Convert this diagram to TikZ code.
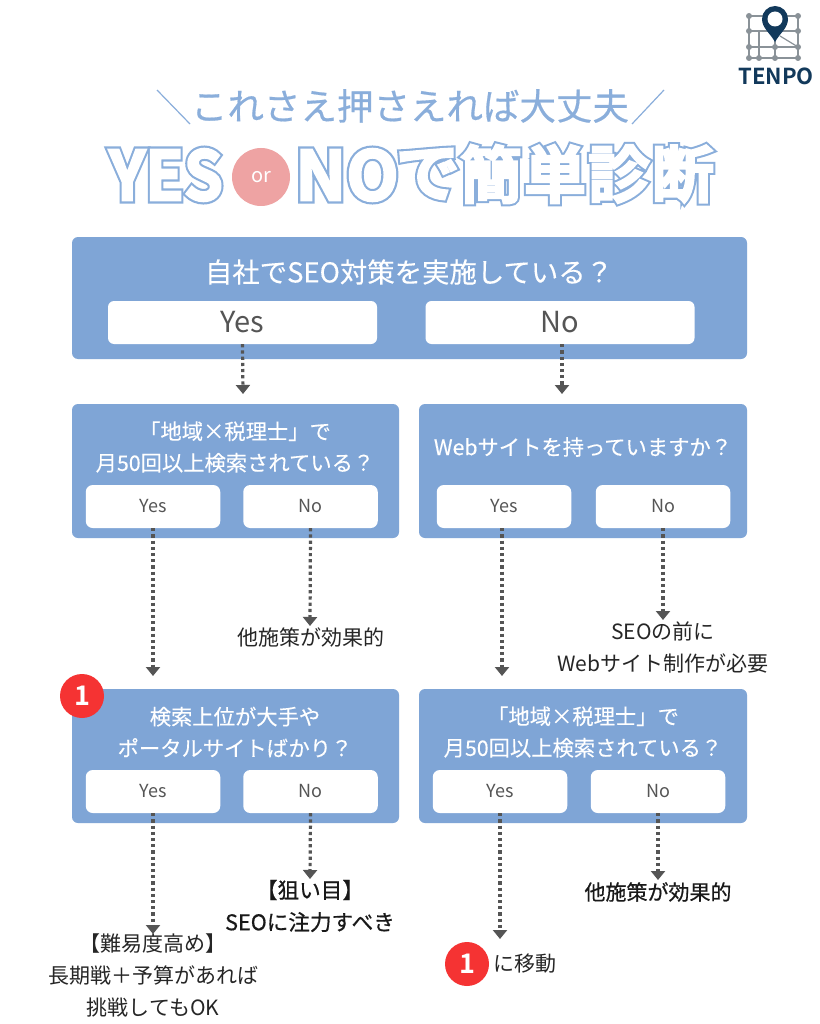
\documentclass[tikz,border=0pt]{standalone}
\usepackage{fontspec}
\usetikzlibrary{arrows.meta}
\newfontfamily\jp{Noto Sans CJK JP}
\newfontfamily\jpq[FakeBold=0.25]{Noto Sans CJK JP}
\newfontfamily\jpm[FakeBold=0.5]{Noto Sans CJK JP}
\newfontfamily\jpb[BoldFont={Noto Sans CJK JP Bold}]{Noto Sans CJK JP}
\newfontfamily\jpthick[FakeBold=10]{Noto Sans CJK JP Bold}
\newfontfamily\jpfat[FakeBold=3.5]{Noto Sans CJK JP Bold}
\newfontfamily\jpmid[FakeBold=0.6]{Noto Sans CJK JP}
\definecolor{panelblue}{HTML}{7FA5D6}
\definecolor{titleblue}{HTML}{8AAEDB}
\definecolor{pinkc}{HTML}{EEA3A3}
\definecolor{redc}{HTML}{F53333}
\definecolor{greyt}{HTML}{555555}
\definecolor{arrowc}{HTML}{555555}
\definecolor{navy}{HTML}{12395B}
\definecolor{gridc}{HTML}{8A9298}
\tikzset{
  panel/.style={fill=panelblue,draw=none,rounded corners=6pt,inner sep=0pt},
  btn/.style={fill=white,draw=none,rounded corners=7pt,inner sep=0pt,minimum width=134.5pt,minimum height=43pt,text=greyt,font={\jp\fontsize{18}{22}\selectfont}},
  bigbtn/.style={fill=white,draw=none,rounded corners=6pt,inner sep=0pt,minimum width=269pt,minimum height=43pt,text=greyt,font={\jp\fontsize{29}{34}\selectfont}},
  qtext/.style={text=white,inner sep=0pt,align=center,font={\jpq\fontsize{21.3}{31.5}\selectfont}},
  ans/.style={text=black!85,inner sep=0pt,align=center,font={\jp\fontsize{21}{32}\selectfont}},
  ansb/.style={text=black!90,inner sep=0pt,align=center,font={\jpmid\fontsize{21.6}{32}\selectfont}},
  flow/.style={draw=arrowc,line width=3.2pt,dash pattern=on 3.2pt off 3pt,-{Triangle[width=14pt,length=9pt]}},
  redbadge/.style={circle,fill=redc,draw=none,inner sep=0pt,minimum size=44pt,text=white,font={\jpb\fontsize{27}{30}\bfseries\selectfont}},
  orbadge/.style={circle,fill=pinkc,draw=none,inner sep=0pt,minimum size=58pt,text=white,font={\jp\fontsize{20}{24}\selectfont}},
  outer/.style={inner sep=0pt,text=titleblue,font={\jpthick\fontsize{#1}{#1}\selectfont}},
  inner/.style={inner sep=0pt,text=white,font={\jpfat\fontsize{#1}{#1}\selectfont}},
  gridline/.style={draw=gridc,line width=1.2pt},
  griddot/.style={circle,fill=gridc,draw=none,inner sep=0pt,minimum size=6pt},
}
\begin{document}
\begin{tikzpicture}[x=1pt,y=-1pt]
\useasboundingbox[fill=white] (0,0) rectangle (819,1024);
% logo
\foreach \y in {16,31,47,58}{\draw[gridline] (749,\y) -- (798,\y);}
\foreach \x in {749,775,798}{\draw[gridline] (\x,16) -- (\x,58);}
\draw[gridline] (759,31) -- (759,58);
\draw[gridline] (780,36) -- (798,47);
\foreach \x in {749,775,798}{\foreach \y in {16,31,47}{\node[griddot] at (\x,\y) {};}}
\foreach \x in {749,759,775,798}{\node[griddot] at (\x,58) {};}
\fill[navy] (775,42) .. controls (770,33) and (762,28) .. (762,19) arc[start angle=180,end angle=360,radius=13] .. controls (788,28) and (780,33) .. (775,42) -- cycle;
\fill[white] (775,19) circle (7.5);
\node[inner sep=0pt,text=navy,font={\jpb\fontsize{22}{24}\bfseries\selectfont}] (logo) at (776,76) {TENPO};
% heading
\node[inner sep=0pt,text=titleblue,font={\jpm\fontsize{36.5}{40}\selectfont}] (head) at (410,106) {これさえ押さえれば大丈夫};
\coordinate (sl1a) at (157,90); \coordinate (sl1b) at (190,124);
\coordinate (sl2a) at (632,124); \coordinate (sl2b) at (664,90);
\draw[titleblue,line width=1.2pt] (sl1a) -- (sl1b);
\draw[titleblue,line width=1.2pt] (sl2a) -- (sl2b);
% big title
\foreach \st/\fs in {outer/1,inner/2}{
  \node[\st=68,xscale=.92] at (166,175) {YES};
  \node[\st=68] at (347,175) {NO};
  \node[\st=64] at (428,174) {で};
  \node[\st=62] at (491,174) {簡};
  \node[\st=62] at (555,174) {単};
  \node[\st=62] at (619,174) {診};
  \node[\st=62] at (683,174) {断};
}
\node[orbadge] (or) at (261,177) {or};
% top panel
\node[panel,minimum width=675pt,minimum height=122pt] (top) at (409.5,298) {};
\node[qtext,font={\jpq\fontsize{27.4}{30}\selectfont}] (topq) at (409,272) {自社でSEO対策を実施している？};
\node[bigbtn] (topy) at (242.5,322.5) {Yes};
\node[bigbtn] (topn) at (560,322.5) {No};
% second row
\node[panel,minimum width=327pt,minimum height=134pt] (a) at (235.5,471) {};
\node[qtext] (aq) at (235,447) {「地域×税理士」で\\月50回以上検索されている？};
\node[btn] (ay) at (153,506.5) {Yes};
\node[btn] (an) at (310.5,506.5) {No};
\node[panel,minimum width=328pt,minimum height=134pt] (b) at (583,471) {};
\node[qtext] (bq) at (583,447) {Webサイトを持っていますか？};
\node[btn] (by) at (504,506.5) {Yes};
\node[btn] (bn) at (663,506.5) {No};
% third row
\node[panel,minimum width=327pt,minimum height=134pt] (c) at (235.5,756) {};
\node[qtext] (cq) at (235,732) {検索上位が大手や\\ポータルサイトばかり？};
\node[btn] (cy) at (153,791.5) {Yes};
\node[btn] (cn) at (310.5,791.5) {No};
\node[panel,minimum width=328pt,minimum height=134pt] (d) at (583,756) {};
\node[qtext] (dq) at (583,732) {「地域×税理士」で\\月50回以上検索されている？};
\node[btn] (dy) at (500,791.5) {Yes};
\node[btn] (dn) at (658,791.5) {No};
\node[redbadge] (one) at (82,696) {1};
% answers
\node[ans] (r1) at (311,637) {他施策が効果的};
\node[ans] (r2) at (663,647) {SEOの前に\\Webサイト制作が必要};
\node[ansb] (r3) at (310,906) {【狙い目】\\SEOに注力すべき};
\node[ans] (r4) at (153,975) {【難易度高め】\\長期戦＋予算があれば\\挑戦してもOK};
\node[ansb,font={\jpmid\fontsize{21}{32}\selectfont}] (r5) at (658,892) {他施策が効果的};
\node[redbadge] (two) at (467,964) {1};
\node[ans,anchor=west] (r6) at (493,964) {に移動};
% targets
\coordinate (t1) at (243,394); \coordinate (t2) at (562,394);
\coordinate (t3) at (153,676); \coordinate (t4) at (310,626);
\coordinate (t5) at (502,676); \coordinate (t6) at (663,620);
\coordinate (t7) at (153,934); \coordinate (t8) at (310,879);
\coordinate (t9) at (500,939); \coordinate (t10) at (658,880);
\draw[flow] (topy.south) -- (t1);
\draw[flow] (topn.south -| t2) -- (t2);
\draw[flow] (ay.south) -- (t3);
\draw[flow] (an.south) -- (t4);
\draw[flow] (by.south -| t5) -- (t5);
\draw[flow] (bn.south) -- (t6);
\draw[flow] (cy.south) -- (t7);
\draw[flow] (cn.south) -- (t8);
\draw[flow] (dy.south) -- (t9);
\draw[flow] (dn.south) -- (t10);
\end{tikzpicture}
\end{document}
